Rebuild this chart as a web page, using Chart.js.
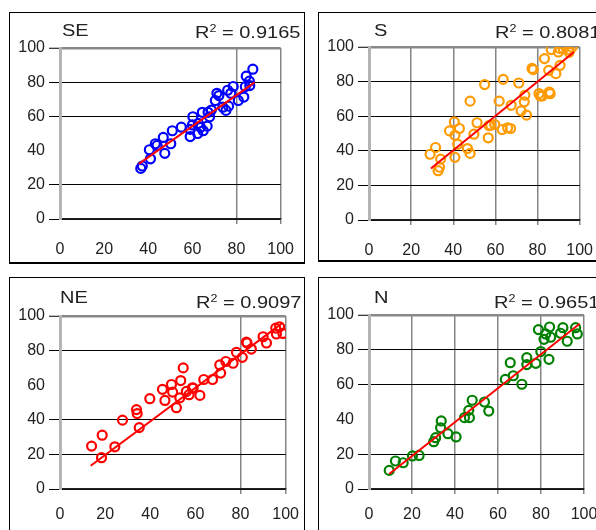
<!DOCTYPE html>
<html>
<head>
<meta charset="utf-8">
<script src="https://cdn.jsdelivr.net/npm/chart.js@4.4.0/dist/chart.umd.min.js"></script>
<style>
html, body { margin: 0; padding: 0; background: #fff; overflow: hidden; width: 596px; height: 530px; }
.box { position: absolute; border: 1px solid #000; box-sizing: border-box; }
canvas { position: absolute; }
.t { position: absolute; font: 16px/16px "Liberation Sans", Arial, sans-serif; color: #222; white-space: nowrap; transform: scaleX(1.25); transform-origin: 0 0; }
.t sup { font-size: 10px; line-height: 0; }
</style>
</head>
<body>
<div class="box" style="left:9px;top:12px;width:296px;height:252px;border-bottom-width:2px"></div>
<div class="box" style="left:318px;top:12px;width:300px;height:250px;border-bottom-width:2px"></div>
<div class="box" style="left:9px;top:277px;width:296px;height:300px"></div>
<div class="box" style="left:318px;top:277px;width:300px;height:300px"></div>

<canvas id="cSE" width="310" height="252" style="left:0px;top:12px"></canvas>
<canvas id="cS" width="300" height="252" style="left:309px;top:12px"></canvas>
<canvas id="cNE" width="310" height="253" style="left:0px;top:277px"></canvas>
<canvas id="cN" width="300" height="253" style="left:309px;top:277px"></canvas>

<span class="t" style="left:62px;top:23px">SE</span>
<span class="t" style="left:195px;top:25px">R<sup>2</sup> = 0.9165</span>
<span class="t" style="left:374px;top:23px">S</span>
<span class="t" style="left:495px;top:25px">R<sup>2</sup> = 0.8081</span>
<span class="t" style="left:60px;top:290px">NE</span>
<span class="t" style="left:196px;top:295px">R<sup>2</sup> = 0.9097</span>
<span class="t" style="left:374px;top:290px">N</span>
<span class="t" style="left:494px;top:295px">R<sup>2</sup> = 0.9651</span>

<script>
// values
const tickValues = [0, 20, 40, 60, 80, 100]

const seX = [36.6, 37.3, 41, 40.5, 43.2, 44, 46.8, 47.5, 50.2, 50.9, 55, 59, 59, 60.2, 60, 62.4, 62.7, 63.7, 64.5, 64.9, 66.7, 67.1, 67.8, 68.6, 70.4, 71.1, 72, 73.8, 75.2, 76, 76.4, 77.4, 78.5, 80.8, 83.3, 84, 84.4, 85.8, 86, 87.4]
const seY = [29.6, 31, 35.2, 40.5, 44, 43, 47.7, 38.4, 44, 51.6, 53.7, 48.2, 52.4, 59.8, 55, 50, 55.9, 53.6, 62.4, 51.6, 54.3, 62.4, 59.8, 63.7, 69.3, 73.5, 72.2, 65.4, 63.5, 75.3, 66, 73.5, 77.5, 69.3, 71.3, 77.4, 83.5, 80.6, 78, 87.6]
const seTrendX = [35.7, 88.2]
const seTrendY = [32.2, 79.9]

const sX = [29, 31.6, 34, 32.8, 33.5, 40.8, 38.2, 40.5, 42.9, 40.8, 42.1, 46.7, 48, 48, 49.8, 51.3, 54.9, 56.6, 57, 57.8, 59.7, 61.8, 63.2, 63.7, 65.8, 67.2, 67.5, 71.1, 72.2, 73.7, 74, 74.8, 77.4, 78, 80.7, 81.3, 82.2, 83.3, 85.6, 85.3, 86, 86.5, 88.7, 89.9, 90.5, 90.7, 92.2, 94.9, 95, 96.4]
const sY = [38, 41.9, 35.2, 28.5, 30.5, 36.2, 51.5, 56.7, 52.9, 49, 43.8, 41.3, 38.5, 68.7, 49.6, 56.2, 78.3, 47.5, 54.6, 54.8, 55.2, 68.7, 52.3, 81.3, 53.3, 52.9, 66.3, 79.2, 63.1, 68.3, 72.1, 60.6, 87.6, 86.9, 73.1, 71.7, 71.7, 93.3, 74, 86.5, 73, 98.5, 84.6, 97.1, 99.2, 89.4, 99, 98.5, 96.9, 99.8]
const sTrendX = [29.4, 97.3]
const sTrendY = [29.8, 97.1]

const neX = [14, 18.7, 18.4, 24.3, 27.7, 33.9, 34.2, 35.1, 39.8, 45.4, 46.5, 49.4, 49.9, 51.6, 53.1, 53.5, 54.6, 56, 57.2, 58.7, 59, 62, 63.7, 67.6, 70.8, 71.2, 73.5, 76.7, 78.2, 80.8, 82.6, 82.9, 84.8, 90, 91.5, 95.6, 95.9, 97.3, 98.8]
const neY = [24.8, 31.1, 18.1, 24.4, 39.8, 45.9, 43.6, 35.5, 52.2, 57.6, 51.2, 60.4, 56, 47, 52.7, 62.7, 70, 56.4, 54.5, 58.5, 58.3, 54.1, 63.3, 63.3, 71.7, 67, 73.7, 72.7, 79, 76.1, 84.9, 84.4, 80.9, 88, 84.4, 93, 89.6, 93.8, 89.9]
const neTrendX = [13.6, 98.5]
const neTrendY = [13.4, 95.9]

const nX = [9.4, 12.3, 15.9, 20.2, 23.3, 30.1, 31, 33.6, 33.3, 36.7, 40.5, 44.4, 46.7, 46.4, 48, 53.7, 55.7, 63.4, 65.7, 67.1, 71.1, 73.4, 73.4, 77.6, 79.9, 83.7, 78.8, 82.2, 84, 84.5, 81.4, 89.1, 90.2, 92.2, 96.1, 96.9]
const nY = [10.7, 16.1, 15.1, 19, 19.3, 27.2, 29.5, 39.1, 35.2, 31.8, 29.9, 41, 41, 45.2, 51, 50, 44.8, 63, 72.6, 65.1, 60.2, 75.5, 71.5, 72.2, 79, 74.5, 91.6, 89.1, 93.1, 87.2, 86, 89.5, 92.7, 84.9, 92.7, 89.1]
const nTrendX = [9.4, 98]
const nTrendY = [8.6, 95]

function pts(xs, ys) {
    return xs.map((x, i) => ({ x: x, y: ys[i] }))
}

function makeChart(id, xs, ys, tx, ty, color, o) {
    const none = 'rgba(0,0,0,0)'
    return new Chart(document.getElementById(id), {
        type: 'scatter',
        data: {
            datasets: [{
                type: 'line',
                data: pts(tx, ty),
                borderColor: '#ff0000',
                borderWidth: 2,
                pointRadius: 0,
                fill: false
            }, {
                data: pts(xs, ys),
                pointStyle: 'circle',
                pointRadius: 4.5,
                borderWidth: 2.2,
                borderColor: color,
                backgroundColor: none
            }]
        },
        options: {
            animation: false,
            responsive: false,
            events: [],
            layout: { padding: { left: 0, right: o.padRight, top: o.padTop, bottom: 0 } },
            plugins: { legend: { display: false }, tooltip: { enabled: false } },
            scales: {
                x: {
                    type: 'linear', min: 0, max: 100,
                    afterFit: s => { s.height = o.xH },
                    afterBuildTicks: s => { s.ticks = tickValues.map(v => ({ value: v })) },
                    ticks: { color: '#222', padding: o.xPad, font: { family: 'Liberation Sans', size: 16 } },
                    grid: {
                        color: c => o.vlines.includes(c.tick.value) ? '#858585' : none,
                        lineWidth: 1.5,
                        tickLength: 5
                    },
                    border: { display: true, color: '#222', width: 1.5 }
                },
                y: {
                    type: 'linear', min: 0, max: 100,
                    afterFit: s => { s.width = 60 },
                    afterBuildTicks: s => { s.ticks = tickValues.map(v => ({ value: v })) },
                    ticks: { color: '#222', padding: 4, font: { family: 'Liberation Sans', size: 16 } },
                    grid: {
                        color: c => c.tick.value === 100 ? '#888' : (c.tick.value === o.skip ? none : '#000'),
                        lineWidth: c => c.tick.value === 100 ? 2.5 : 1,
                        tickColor: c => c.tick.value === o.skip ? none : '#000',
                        tickLength: 11,
                        tickWidth: 1
                    },
                    border: { display: true, color: '#b4b4b4', width: 3 }
                }
            }
        }
    })
}

makeChart('cSE', seX, seY, seTrendX, seTrendY, '#0000ff',
    { padTop: 36, padRight: 24, xH: 45, xPad: 16, vlines: [80, 100], skip: 40 })
makeChart('cS', sX, sY, sTrendX, sTrendY, '#ff9a00',
    { padTop: 35, padRight: 25, xH: 44, xPad: 16, vlines: [20, 40, 60, 80, 100], skip: -1 })
makeChart('cNE', neX, neY, neTrendX, neTrendY, '#ff0000',
    { padTop: 39, padRight: 24, xH: 41, xPad: 11, vlines: [80, 100], skip: 60 })
makeChart('cN', nX, nY, nTrendX, nTrendY, '#008000',
    { padTop: 38, padRight: 25, xH: 41, xPad: 11, vlines: [20, 40, 60, 80, 100], skip: 40 })
</script>
</body>
</html>
